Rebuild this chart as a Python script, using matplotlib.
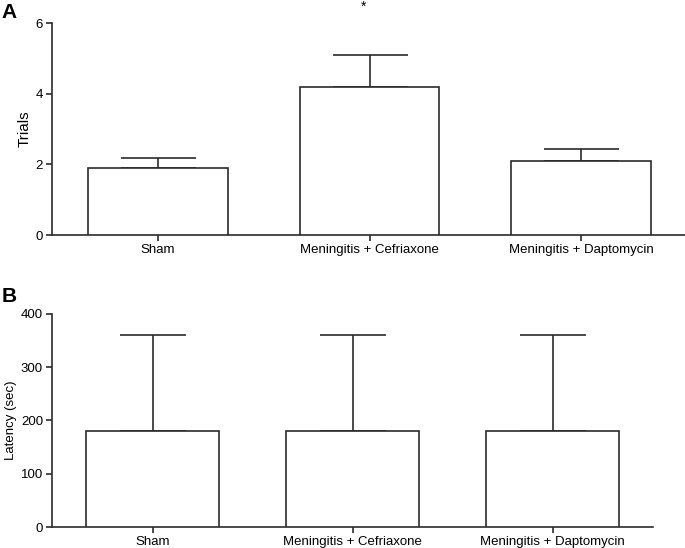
import matplotlib
matplotlib.use("Agg")
import matplotlib.pyplot as plt
import numpy as np

plt.rcParams['font.family'] = ['Liberation Sans', 'DejaVu Sans']

categories = ["Sham", "Meningitis + Cefriaxone", "Meningitis + Daptomycin"]
trials_mean = [1.9, 4.2, 2.1]
trials_sem = [0.27, 0.9, 0.34]
latency_mean = [180, 180, 180]
latency_sem = [180, 180, 180]
yticks_a = [0, 2, 4, 6]
yticks_b = [0, 100, 200, 300, 400]

dark = "#2b2b2b"
fig = plt.figure(figsize=(6.85, 5.48), dpi=100)

def style(ax):
    for s in ["top", "right"]:
        ax.spines[s].set_visible(False)
    for s in ["left", "bottom"]:
        ax.spines[s].set_color(dark)
        ax.spines[s].set_linewidth(1.2)
    ax.tick_params(axis="both", colors=dark, labelcolor="black", length=4, width=1.2,
                   labelsize=9.5, pad=2.5)

x = np.arange(len(categories))

axA = fig.add_axes([0.0759, 0.571, 0.924, 0.387])
axA.bar(x, trials_mean, width=0.66, color="white", edgecolor=dark, linewidth=1.2, zorder=3)
axA.errorbar(x, trials_mean, yerr=[[0]*3, trials_sem], fmt="none", ecolor=dark,
             elinewidth=1.2, capsize=27, capthick=1.2, zorder=2)
axA.set_xlim(-0.5, 2.49)
axA.set_ylim(0, 6)
axA.set_yticks(yticks_a)
axA.set_xticks(x)
axA.set_xticklabels(categories)
axA.set_ylabel("Trials", fontsize=11, labelpad=3)
axA.text(0.97, 6.45, "*", ha="center", va="center", fontsize=10, clip_on=False)
style(axA)

axB = fig.add_axes([0.0759, 0.0383, 0.877, 0.389])
axB.bar(x, latency_mean, width=0.665, color="white", edgecolor=dark, linewidth=1.2, zorder=3)
axB.errorbar(x, latency_mean, yerr=[[0]*3, latency_sem], fmt="none", ecolor=dark,
             elinewidth=1.2, capsize=24, capthick=1.2, zorder=2)
axB.set_xlim(-0.505, 2.5)
axB.set_ylim(0, 400)
axB.set_yticks(yticks_b)
axB.set_xticks(x)
axB.set_xticklabels(categories)
axB.set_ylabel("Latency (sec)", fontsize=9.5, labelpad=3)
style(axB)

fig.text(0.002, 0.995, "A", fontsize=15, fontweight="bold", ha="left", va="top")
fig.text(0.002, 0.477, "B", fontsize=15, fontweight="bold", ha="left", va="top")

fig.savefig("out.png", dpi=100)
